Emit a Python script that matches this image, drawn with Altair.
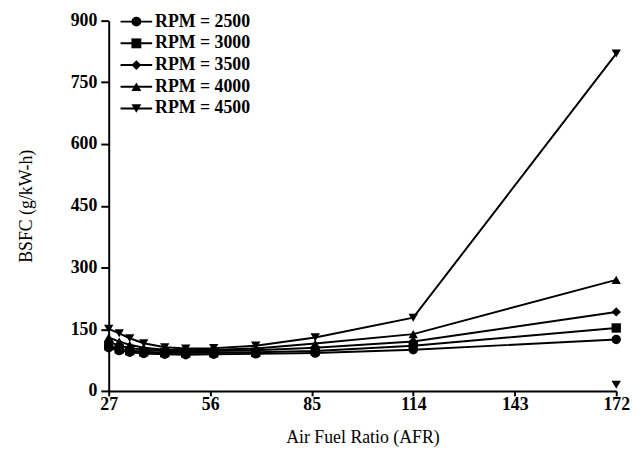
import altair as alt
import pandas as pd

afr = [27, 30, 33, 37, 43, 49, 57, 69, 86, 114, 172]
series = ["RPM = 2500", "RPM = 3000", "RPM = 3500", "RPM = 4000", "RPM = 4500"]
bsfc_2500 = [105, 98, 94, 91, 89, 88, 89, 90, 92, 100, 125]
bsfc_3000 = [110, 102, 98, 95, 93, 92, 93, 94, 97, 110, 153]
bsfc_3500 = [120, 110, 104, 100, 97, 96, 97, 99, 105, 120, 192]
bsfc_4000 = [130, 120, 112, 105, 100, 99, 100, 103, 115, 138, 270]
bsfc_4500 = [151, 140, 128, 116, 106, 103, 104, 110, 130, 178, 820]
extra_afr = [172]
extra_bsfc = [15]
extra_series = ["RPM = 4500"]

shapes = ["circle", "square", "diamond", "triangle-up", "triangle-down"]

rows = []
for name, vals in zip(series, [bsfc_2500, bsfc_3000, bsfc_3500, bsfc_4000, bsfc_4500]):
    for a, v in zip(afr, vals):
        rows.append({"afr": a, "bsfc": v, "rpm": name, "rpm_line": name})
df = pd.DataFrame(rows)
extra = pd.DataFrame({"afr": extra_afr, "bsfc": extra_bsfc, "rpm": extra_series})

FONT = "Liberation Serif"
LFS = 18

x = alt.X("afr:Q", title="Air Fuel Ratio (AFR)",
          scale=alt.Scale(domain=[27, 172], nice=False, zero=False),
          axis=alt.Axis(values=[27, 56, 85, 114, 143, 172]))
y = alt.Y("bsfc:Q", title="BSFC (g/kW-h)",
          scale=alt.Scale(domain=[0, 900], nice=False),
          axis=alt.Axis(values=[0, 150, 300, 450, 600, 750, 900]))

lines = alt.Chart(df).mark_line(strokeWidth=2).encode(
    x=x, y=y,
    color=alt.Color("rpm_line:N", scale=alt.Scale(range=["black"] * 5),
                    legend=alt.Legend(title=None, orient="none", legendX=19, legendY=-8,
                                      symbolType="M-3.2,0H3.2", symbolSize=100,
                                      symbolStrokeWidth=2, symbolStrokeColor="black",
                                      symbolFillColor="transparent",
                                      labelExpr="''",
                                      labelFontSize=LFS, rowPadding=4, padding=0,
                                      labelOffset=10)),
)

points = alt.Chart(df).mark_point(filled=True, opacity=1, color="black", size=90).encode(
    x=x, y=y,
    shape=alt.Shape("rpm:N", scale=alt.Scale(domain=series, range=shapes),
                    legend=alt.Legend(title=None, orient="none", legendX=19, legendY=-8,
                                      symbolSize=100, symbolFillColor="black",
                                      symbolStrokeColor="black", symbolOpacity=1,
                                      labelFontSize=LFS, labelFont=FONT, labelFontWeight="bold",
                                      labelColor="black", rowPadding=4, padding=0,
                                      labelOffset=10)),
)

extra_pts = alt.Chart(extra).mark_point(filled=True, opacity=1, color="black", size=90,
                                        shape="triangle-down").encode(
    x=alt.X("afr:Q"), y=alt.Y("bsfc:Q"))

chart = alt.layer(lines, points, extra_pts).properties(
    width=514, height=375,
    autosize=alt.AutoSizeParams(type="none"),
    padding={"left": 102, "top": 10, "right": 19, "bottom": 54},
).configure_view(stroke=None).configure_axis(
    labelFont=FONT, labelFontWeight="bold", labelFontSize=LFS, labelColor="black",
    titleFont=FONT, titleFontWeight="normal", titleFontSize=18, titleColor="black",
    domainColor="black", domainWidth=2, tickColor="black", tickWidth=2,
    grid=False, labelFlush=False,
).configure_axisX(tickSize=5, labelPadding=0, titlePadding=15
).configure_axisY(tickSize=8, labelPadding=4, titlePadding=35
).configure_legend(labelFont=FONT, labelFontWeight="bold")

chart.save("out.html", embed_options={"renderer": "svg", "actions": False})
